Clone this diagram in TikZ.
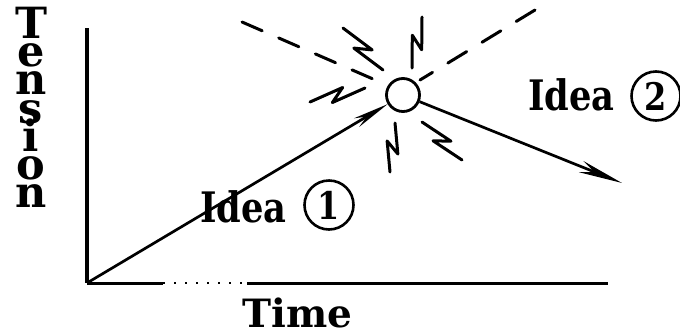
\documentclass[tikz,border=0pt]{standalone}
\usepackage{fontspec}
\usepackage{graphicx}
\setmainfont{DejaVu Serif}
\usetikzlibrary{arrows.meta,calc}
\newcommand\mybolt[2]{\draw[bolt] (#1) -- ($(#1)!0.62!(#2)!6pt!90:(#2)$) -- ($(#1)!0.38!(#2)!6pt!-90:(#2)$) -- (#2);}
\newcommand\tensfont{\bfseries\fontsize{43}{28.2}\selectfont\lineskiplimit=-100pt\relax}
\newcommand\narrow[1]{\scalebox{0.84}[1]{#1}}
\begin{document}
\begin{tikzpicture}[x=1pt,y=-1pt,
  axis/.style={line width=3.5pt},
  idealine/.style={line width=2.7pt},
  dashray/.style={line width=3pt, dash pattern=on 22pt off 18pt, line cap=round},
  bolt/.style={line width=3pt, line cap=round, line join=round},
  lbl/.style={font=\bfseries\fontsize{42}{44}\selectfont, inner sep=0pt, anchor=base west},
  numc/.style={circle, draw, line width=2.6pt, inner sep=0pt, minimum size=49pt, font=\bfseries\fontsize{38}{40}\selectfont},
]
\useasboundingbox (0,0) rectangle (680,333);
% axes
\coordinate (O) at (87,283);
\coordinate (ytop) at (87,28);
\coordinate (g1) at (163,283);
\coordinate (g2) at (247,283);
\coordinate (xend) at (608,283);
\draw[axis] (ytop) -- (O);
\draw[line width=3pt] (O) -- (g1);
\draw[line width=2pt, dash pattern=on 2pt off 9pt] (g1) -- (g2);
\draw[line width=3pt] (g2) -- (xend);
% burst circle
\node[circle, draw, line width=2.8pt, minimum size=33pt, inner sep=0pt] (burst) at (403,95) {};
% idea lines
\coordinate (end2) at (622,183);
\draw[idealine, -{Stealth[length=36pt,width=10pt]}] (O) -- (burst);
\draw[idealine, -{Stealth[length=44pt,width=12pt]}] (burst) -- (end2);
% dashed rays
\coordinate (d1a) at (242,22); \coordinate (d1b) at (373,79);
\coordinate (d2a) at (535,10); \coordinate (d2b) at (420,80);
\draw[dashray] (d1a) -- (d1b);
\draw[dashray] (d2a) -- (d2b);
% bolts
\coordinate (b1a) at (343,28); \coordinate (b1b) at (383,70);
\coordinate (b2a) at (422,17); \coordinate (b2b) at (412,68);
\coordinate (b3a) at (310,102); \coordinate (b3b) at (365,88);
\coordinate (b4a) at (395,123); \coordinate (b4b) at (390,172);
\coordinate (b5a) at (422,122); \coordinate (b5b) at (462,160);
\mybolt{b1a}{b1b}
\mybolt{b2a}{b2b}
\mybolt{b3a}{b3b}
\mybolt{b4a}{b4b}
\mybolt{b5a}{b5b}
% labels
\node[lbl] (idea1) at (200,222) {\narrow{Idea}};
\node[numc] (n1) at (329,205) {\narrow{1}};
\node[lbl] (idea2) at (528,110) {\narrow{Idea}};
\node[numc] (n2) at (656,96) {\narrow{2}};
\node[lbl, font=\bfseries\fontsize{39}{40}\selectfont] (time) at (242,327) {Time};
% Tension
\node[anchor=north, inner sep=0pt, align=center, font=\tensfont]
      (tension) at (31,7) {T\\e\\n\\s\\i\\o\\n};
\end{tikzpicture}
\end{document}
